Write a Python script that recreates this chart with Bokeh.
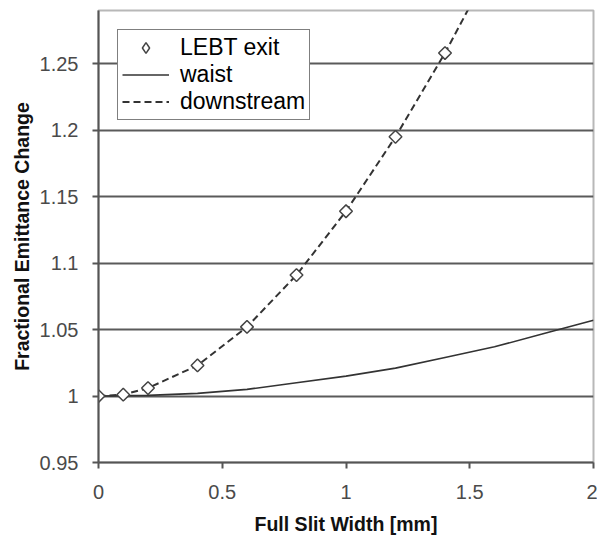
import math
from bokeh.plotting import figure
from bokeh.models import (Range1d, FixedTicker, NumeralTickFormatter, Legend, LegendItem,
                          ColumnDataSource)
from bokeh.embed import file_html
from bokeh.resources import INLINE

# ---- data ----
lebt_x = [0.0, 0.1, 0.2, 0.4, 0.6, 0.8, 1.0, 1.2, 1.4]
lebt_y = [1.000, 1.001, 1.006, 1.023, 1.052, 1.091, 1.139, 1.195, 1.258]

down_x = [0.0, 0.1, 0.2, 0.4, 0.6, 0.8, 1.0, 1.2, 1.4, 1.6]
down_y = [1.000, 1.001, 1.006, 1.023, 1.052, 1.091, 1.139, 1.195, 1.258, 1.328]

waist_x = [0.0, 0.2, 0.4, 0.6, 0.8, 1.0, 1.2, 1.4, 1.6, 1.8, 2.0]
waist_y = [1.000, 1.0005, 1.002, 1.005, 1.010, 1.015, 1.021, 1.029, 1.037, 1.047, 1.057]

x_ticks = [0, 0.5, 1, 1.5, 2]
y_ticks = [0.95, 1.0, 1.05, 1.1, 1.15, 1.2, 1.25]

FONT = "Liberation Sans"

p = figure(width=597, height=537, x_range=Range1d(0, 2), y_range=Range1d(0.95, 1.29),
           output_backend="svg", toolbar_location=None,
           min_border_left=98, min_border_right=4, min_border_top=10, min_border_bottom=74)
# off-screen range used only to give the legend swatch renderer real data without drawing it
p.extra_y_ranges = {"legend_only": Range1d(100, 101)}

p.background_fill_color = "white"
p.border_fill_color = "white"
p.outline_line_color = "#b8b8b8"
p.outline_line_width = 2

p.xgrid.visible = False
p.ygrid.grid_line_color = "#5a5a5a"
p.ygrid.grid_line_width = 2

for ax in (p.xaxis[0], p.yaxis[0]):
    ax.axis_line_color = "#555555"
    ax.axis_line_width = 2
    ax.major_tick_line_color = "#555555"
    ax.major_tick_line_width = 2
    ax.major_tick_in = 0
    ax.major_tick_out = 6
    ax.minor_tick_line_color = None
    ax.major_label_text_font = FONT
    ax.major_label_text_font_size = "20px"
    ax.major_label_text_color = "#4a4a4a"
    ax.axis_label_text_font = FONT
    ax.axis_label_text_font_style = "bold"
    ax.axis_label_text_font_size = "19.5px"
    ax.axis_label_text_color = "#111111"

p.xaxis.ticker = FixedTicker(ticks=x_ticks)
p.yaxis.ticker = FixedTicker(ticks=y_ticks)
p.xaxis.formatter = NumeralTickFormatter(format="0.[0]")
p.yaxis.formatter = NumeralTickFormatter(format="0.[00]")
p.xaxis.axis_label = "Full Slit Width [mm]"
p.yaxis.axis_label = "Fractional Emittance Change"
p.xaxis.major_label_standoff = 16
p.xaxis.axis_label_standoff = 11
p.yaxis.major_label_standoff = 14
p.yaxis.axis_label_standoff = 4

lebt_src = ColumnDataSource(data=dict(x=lebt_x, y=lebt_y))

r_waist = p.line(waist_x, waist_y, line_color="#333333", line_width=1.6)
r_down = p.line(down_x, down_y, line_color="#333333", line_width=2, line_dash="7 4")
r_pts = p.scatter("x", "y", source=lebt_src, marker="square", angle=math.pi / 4, size=9,
                  fill_color="white", line_color="#444444", line_width=1.5)
# legend swatch (legend swatches ignore marker angle): same data on an off-screen range
r_pts_leg = p.scatter("x", "y", source=lebt_src, y_range_name="legend_only",
                      marker="diamond", size=12,
                      fill_color="white", line_color="#444444", line_width=1.5)

legend = Legend(items=[LegendItem(label="LEBT exit", renderers=[r_pts_leg]),
                       LegendItem(label="waist", renderers=[r_waist]),
                       LegendItem(label="downstream", renderers=[r_down])],
                location="top_left", margin=19, padding=4, spacing=0,
                glyph_width=47, glyph_height=27, label_height=27, label_standoff=11,
                label_text_font=FONT, label_text_font_size="23px", label_text_color="black",
                border_line_color="black", border_line_width=1,
                background_fill_color="white", background_fill_alpha=1)
p.add_layout(legend)

open("out.html", "w").write(file_html(p, INLINE))
